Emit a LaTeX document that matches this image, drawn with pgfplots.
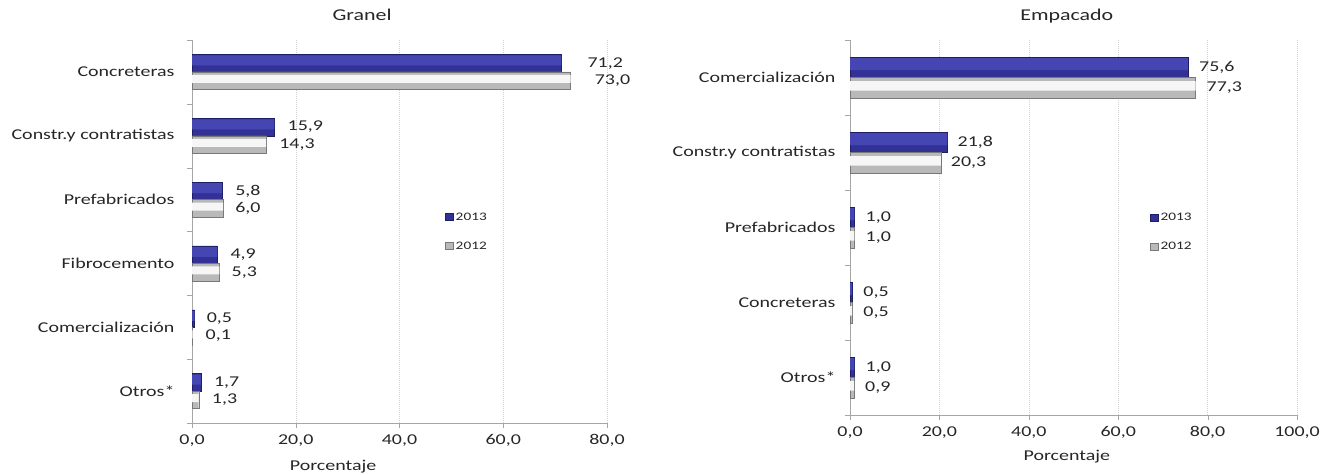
\documentclass[border=0pt]{standalone}
\usepackage{fontspec}
\setmainfont{Carlito}[FakeStretch=1.33]
\usepackage{pgfplots}
\usepackage{pgfplotstable}
\pgfplotsset{compat=1.18}

\definecolor{bluebase}{RGB}{50,50,150}
\definecolor{bluehi}{RGB}{70,70,178}
\definecolor{blueedge}{RGB}{30,30,100}
\definecolor{graybase}{RGB}{185,185,185}
\definecolor{grayhi}{RGB}{246,246,246}
\definecolor{grayedge}{RGB}{120,120,120}
\definecolor{txt}{RGB}{38,38,38}

% columnas: posicion, valor 2013, valor 2012, separacion de las etiquetas
\pgfplotstableread{
idx v13 v12 d13 d12
0 71.2 73.0 26 24
1 15.9 14.3 13 13
2 5.8 6.0 13 12
3 4.9 5.3 13 12
4 0.5 0.1 12 13
5 1.7 1.3 13 13
}\granel

\pgfplotstableread{
idx v13 v12 d13 d12
0 75.6 77.3 11 11
1 21.8 20.3 10 10
2 1.0 1.0 11 11
3 0.5 0.5 11 11
4 1.0 0.9 11 11
}\empacado

\newcommand{\lblfont}{\fontsize{15}{17}\selectfont}
\newcommand{\titfont}{\fontsize{16.5}{18}\selectfont}
\newcommand{\legfont}{\fontsize{11.5}{13}\selectfont}

\pgfplotsset{
  panel/.style={
    scale only axis,
    xbar,
    y dir=reverse,
    axis x line*=bottom,
    axis y line*=left,
    axis line style={gray!70},
    xmin=0,
    xmajorgrids,
    grid style={gray!35, dash pattern=on 1pt off 1pt},
    tick align=outside,
    major tick length=5pt,
    minor tick length=5pt,
    major y tick style={draw=none},
    minor y tick style={gray!70},
    x tick style={gray!70},
    ytick={0,...,5},
    ticklabel style={text=txt, font=\lblfont},
    xticklabel={\pgfmathprintnumber[fixed,fixed zerofill,precision=1,use comma,assume math mode=true]{\tick}},
    xticklabel style={yshift=-3pt},
    title style={text=txt, anchor=center, yshift=-5pt},
    xlabel style={text=txt, anchor=center},
    xlabel={\lblfont Porcentaje},
    legend style={draw=none, fill=none, font=\legfont,
      text=txt, row sep=16pt, cells={anchor=west}, inner sep=0pt},
    legend image code/.code={\path[#1] (0pt,-3.5pt) rectangle (8pt,3.5pt);},
  },
  y2013/.style={draw=blueedge, fill=bluebase},
  y2012/.style={draw=grayedge, fill=graybase},
  brillo/.style={forget plot, draw=none, fill=#1},
  lbl/.style={
    visualization depends on={\thisrow{#1} \as \dx},
    nodes near coords={\pgfmathprintnumber[fixed,fixed zerofill,precision=1,use comma,assume math mode=true]{\pgfplotspointmeta}},
    nodes near coords style={anchor=west, inner sep=0pt, xshift=\dx pt, text=txt, font=\lblfont}},
}

\begin{document}
\begin{tikzpicture}
\useasboundingbox (0,0) rectangle (1330pt,474pt);

\begin{axis}[panel,
  at={(192pt,51pt)}, anchor=south west,
  width=415pt, height=383pt,
  xmax=80, xtick={0,20,...,80},
  ymin=-0.5, ymax=5.5,
  minor ytick={-0.5,0.5,...,5.5},
  yticklabels={Concreteras, Constr.y contratistas, Prefabricados, Fibrocemento, Comercialización, Otros*},
  yticklabel style={xshift=-9pt},
  bar width=17.5pt,
  title={\titfont Granel},
  title style={at={(axis description cs:0.41,1.063)}},
  xlabel style={at={(axis description cs:0.34,-0.115)}},
  legend style={at={(axis description cs:0.61,0.555)}, anchor=north west},
]
\addplot[y2013, bar shift=8.75pt, lbl=d13] table[x=v13, y=idx, meta=v13] {\granel};
\addplot[y2012, bar shift=-8.75pt, lbl=d12] table[x=v12, y=idx, meta=v12] {\granel};
\addplot[brillo=bluehi, bar width=10pt, bar shift=11.5pt] table[x=v13, y=idx] {\granel};
\addplot[brillo=grayhi, bar width=8pt, bar shift=-7pt] table[x=v12, y=idx] {\granel};
\legend{2013, 2012}
\end{axis}

\begin{axis}[panel,
  at={(850pt,59pt)}, anchor=south west,
  width=447pt, height=375pt,
  xmax=100, xtick={0,20,...,100},
  ymin=-0.5, ymax=4.5,
  minor ytick={-0.5,0.5,...,4.5},
  ytick={0,...,4},
  yticklabels={Comercialización, Constr.y contratistas, Prefabricados, Concreteras, Otros*},
  yticklabel style={xshift=-6pt},
  bar width=20.5pt,
  title={\titfont Empacado},
  title style={at={(axis description cs:0.485,1.061)}},
  xlabel style={at={(axis description cs:0.485,-0.11)}},
  legend style={at={(axis description cs:0.671,0.545)}, anchor=north west},
]
\addplot[y2013, bar shift=10.25pt, lbl=d13] table[x=v13, y=idx, meta=v13] {\empacado};
\addplot[y2012, bar shift=-10.25pt, lbl=d12] table[x=v12, y=idx, meta=v12] {\empacado};
\addplot[brillo=bluehi, bar width=12pt, bar shift=13.5pt] table[x=v13, y=idx] {\empacado};
\addplot[brillo=grayhi, bar width=9.5pt, bar shift=-8.25pt] table[x=v12, y=idx] {\empacado};
\legend{2013, 2012}
\end{axis}
\end{tikzpicture}
\end{document}
